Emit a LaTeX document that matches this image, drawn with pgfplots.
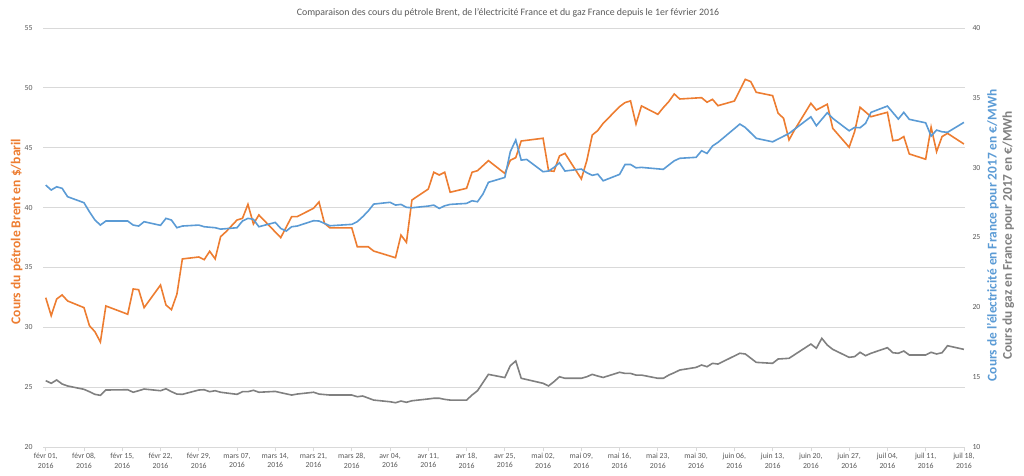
\documentclass[border=0pt]{standalone}
\usepackage{fontspec}
\setmainfont{Carlito}
\usepackage{pgfplots}
\pgfplotsset{compat=1.18}
\definecolor{cOrange}{HTML}{ED7D31}
\definecolor{cBlue}{HTML}{5B9BD5}
\definecolor{cGray}{HTML}{808080}
\definecolor{cGrid}{HTML}{D9D9D9}
\definecolor{cText}{HTML}{595959}
\newcommand{\tickfont}{\fontsize{7.8}{9.4}\selectfont}
\begin{document}
\begin{tikzpicture}
\useasboundingbox (0,0) rectangle (1024bp,476bp);
\node[text=cText, font=\fontsize{9.9}{12}\selectfont] at (508bp,463.3bp) {Comparaison des cours du pétrole Brent, de l'électricité France et du gaz France depuis le 1er février 2016};
\begin{axis}[
  at={(43bp,29bp)}, anchor=south west, scale only axis,
  width=922bp, height=419bp,
  xmin=-0.5, xmax=168.2, ymin=20, ymax=55,
  ytick={20,25,...,55},
  axis y line*=left, axis x line*=bottom,
  y axis line style={draw=none},
  x axis line style={cGrid, line width=0.75bp, -},
  ymajorgrids, major grid style={cGrid, line width=0.75bp},
  xtick={0,7,...,168},
  xticklabels={{févr 01,\\2016},{févr 08,\\2016},{févr 15,\\2016},{févr 22,\\2016},{févr 29,\\2016},{mars 07,\\2016},{mars 14,\\2016},{mars 21,\\2016},{mars 28,\\2016},{avr 04,\\2016},{avr 11,\\2016},{avr 18,\\2016},{avr 25,\\2016},{mai 02,\\2016},{mai 09,\\2016},{mai 16,\\2016},{mai 23,\\2016},{mai 30,\\2016},{juin 06,\\2016},{juin 13,\\2016},{juin 20,\\2016},{juin 27,\\2016},{juil 04,\\2016},{juil 11,\\2016},{juil 18,\\2016}},
  xticklabel style={align=center, font=\tickfont, text=cText, yshift=1bp},
  yticklabel style={font=\tickfont, text=cText, xshift=-3bp},
  tick align=outside, major tick length=4bp,
  xtick style={cGrid, line width=0.75bp}, ytick style={draw=none},
  /pgf/number format/assume math mode=true,
  ylabel={Cours du pétrole Brent en \$/baril},
  ylabel style={font=\fontsize{13.6}{15}\selectfont\bfseries, text=cOrange, at={(axis description cs:-0.0285,0.514)}, anchor=center},
]
\addplot[cOrange, line width=1.6bp] coordinates {
(0,32.47)(1,30.97)(2,32.36)(3,32.7)(4,32.2)(7,31.64)(8,30.13)(9,29.63)(10,28.77)(11,31.78)
(15,31.09)(16,33.2)(17,33.14)(18,31.64)(21,33.53)(22,31.86)(23,31.47)(24,32.76)(25,35.71)
(28,35.87)(29,35.65)(30,36.35)(31,35.71)(32,37.57)(33,37.99)(35,38.96)(36,39.1)(37,40.27)(38,38.63)(39,39.38)
(43,37.49)(45,39.24)(46,39.24)(49,39.94)(50,40.47)(51,38.69)(52,38.3)(56,38.3)(57,36.73)(59,36.73)(60,36.37)
(64,35.81)(65,37.7)(66,37.09)(67,40.63)(70,41.55)(71,42.95)(72,42.72)(73,42.95)(74,41.28)(77,41.61)(78,42.95)(79,43.08)(81,43.92)
(84,42.85)(85,43.95)(86,44.17)(87,45.56)(91,45.79)(92,43.08)(93,43.03)(94,44.31)(95,44.53)(98,42.39)(99,43.92)(100,46.06)(101,46.43)(102,47.04)
(105,48.43)(106,48.77)(107,48.91)(108,46.98)(109,48.49)(112,47.79)(113,48.35)(114,48.85)(115,49.49)(116,49.07)
(120,49.18)(121,48.8)(122,49.04)(123,48.51)(126,48.9)(128,50.71)(129,50.52)(130,49.63)(133,49.35)(134,47.88)(135,47.46)(136,45.65)(137,46.48)
(140,48.71)(141,48.15)(143,48.63)(144,46.62)(147,45.04)(148,46.34)(149,48.38)(151,47.59)(154,47.96)(155,45.59)(156,45.65)(157,45.93)(158,44.48)
(161,44.04)(162,46.71)(163,44.67)(164,45.93)(165,46.2)(168,45.31)
};
\end{axis}
\begin{axis}[
  at={(43bp,29bp)}, anchor=south west, scale only axis,
  width=922bp, height=419bp,
  xmin=-0.5, xmax=168.2, ymin=10, ymax=40,
  ytick={10,15,...,40},
  axis y line*=right, axis x line=none, xtick=\empty,
  y axis line style={draw=none}, ytick style={draw=none},
  yticklabel style={font=\tickfont, text=cText, xshift=4bp},
  /pgf/number format/assume math mode=true,
  ylabel={\textcolor{cBlue}{\bfseries Cours de l'électricité en France pour 2017 en €/MWh}\\\textcolor{cGray}{\bfseries Cours du gaz en France pour 2017 en €/MWh}},
  ylabel style={font=\fontsize{13.4}{15.5}\selectfont, align=center, at={(axis description cs:1.0385,0.505)}, anchor=center},
]
\addplot[cBlue, line width=1.6bp] coordinates {
(0,28.75)(1,28.4)(2,28.63)(3,28.52)(4,27.92)(7,27.49)(8,26.84)(9,26.25)(10,25.89)(11,26.18)
(15,26.18)(16,25.89)(17,25.82)(18,26.13)(21,25.87)(22,26.37)(23,26.25)(24,25.7)(25,25.82)
(28,25.89)(29,25.77)(31,25.7)(32,25.6)(35,25.7)(36,26.18)(37,26.37)(38,26.3)(39,25.77)
(42,26.08)(43,25.65)(44,25.46)(45,25.77)(46,25.82)(49,26.2)(50,26.18)(51,26.01)(52,25.84)
(56,25.94)(57,26.13)(58,26.49)(59,26.89)(60,27.39)(63,27.52)(64,27.32)(65,27.37)(66,27.16)(67,27.13)
(70,27.25)(71,27.32)(72,27.08)(73,27.27)(74,27.37)(77,27.44)(78,27.63)(79,27.56)(80,28.11)(81,28.95)
(84,29.3)(85,31.14)(86,31.98)(87,30.54)(88,30.59)(91,29.71)(92,29.76)(93,30.02)(94,30.35)(95,29.76)
(98,29.9)(99,29.64)(100,29.45)(101,29.54)(102,29.06)(105,29.52)(106,30.23)(107,30.23)(108,29.99)(109,30.02)
(113,29.88)(114,30.19)(115,30.49)(116,30.67)(119,30.74)(120,31.21)(121,31.02)(122,31.55)(123,31.81)
(127,33.12)(128,32.88)(130,32.1)(133,31.85)(136,32.45)(140,33.64)(141,33.0)(143,33.93)(144,33.53)
(147,32.64)(148,32.88)(149,32.86)(150,33.17)(151,33.96)(154,34.41)(156,33.48)(157,33.96)(158,33.46)
(161,33.21)(162,32.26)(163,32.69)(164,32.57)(165,32.53)(168,33.24)
};
\addplot[cGray, line width=1.6bp] coordinates {
(0,14.75)(1,14.56)(2,14.8)(3,14.51)(4,14.37)(7,14.13)(8,13.96)(9,13.77)(10,13.7)(11,14.08)
(15,14.1)(16,13.92)(17,14.03)(18,14.15)(21,14.03)(22,14.17)(23,13.96)(24,13.79)(25,13.77)
(28,14.08)(29,14.1)(30,13.96)(31,14.03)(32,13.92)(35,13.77)(36,13.96)(37,13.96)(38,14.06)(39,13.92)
(42,13.98)(43,13.89)(45,13.72)(46,13.79)(49,13.92)(50,13.79)(52,13.72)(56,13.72)(57,13.6)(58,13.65)(60,13.36)
(63,13.24)(64,13.17)(65,13.29)(66,13.2)(67,13.31)(70,13.44)(71,13.49)(72,13.49)(73,13.41)(74,13.36)
(77,13.36)(78,13.72)(79,14.03)(81,15.2)(84,14.97)(85,15.82)(86,16.16)(87,14.92)(91,14.56)(92,14.37)(93,14.68)(94,15.03)(95,14.92)
(98,14.92)(99,15.03)(100,15.2)(101,15.08)(102,14.98)(105,15.35)(106,15.27)(107,15.27)(108,15.15)(109,15.15)
(112,14.92)(113,14.92)(114,15.15)(115,15.32)(116,15.51)(119,15.7)(120,15.87)(121,15.75)(122,15.99)(123,15.94)
(127,16.71)(128,16.66)(130,16.06)(133,15.99)(134,16.3)(136,16.35)(140,17.37)(141,17.07)(142,17.78)(143,17.3)(144,16.99)
(147,16.42)(148,16.47)(149,16.78)(150,16.54)(151,16.71)(154,17.11)(155,16.75)(156,16.71)(157,16.87)(158,16.59)
(161,16.59)(162,16.78)(163,16.66)(164,16.75)(165,17.25)(168,16.99)
};
\end{axis}
\end{tikzpicture}
\end{document}
